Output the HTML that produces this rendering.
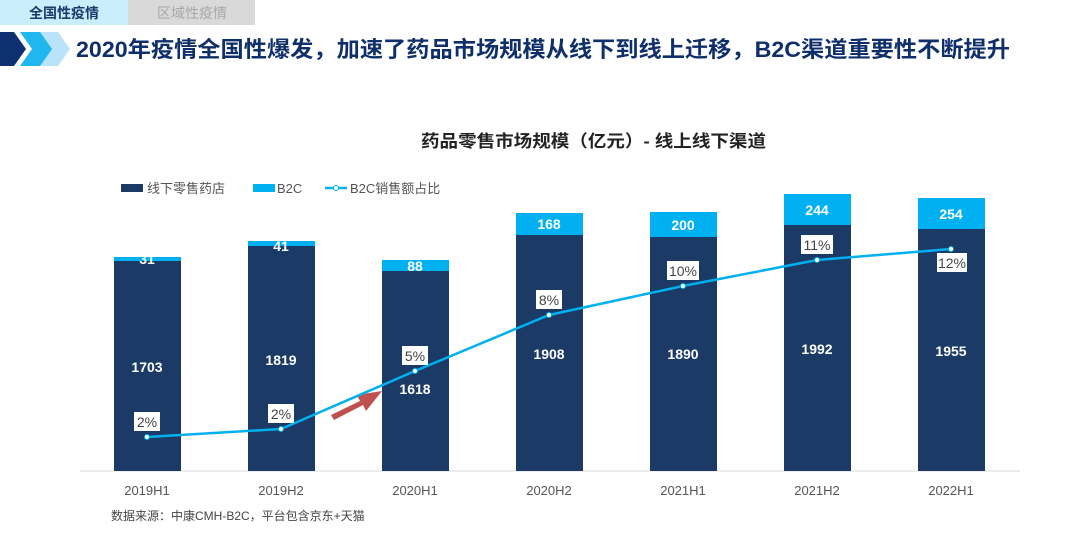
<!DOCTYPE html>
<html><head><meta charset="utf-8"><style>
body{margin:0;width:1080px;height:541px;background:#fff;overflow:hidden;font-family:"Liberation Sans","Noto Sans CJK SC",sans-serif}
</style></head><body>
<svg width="1080" height="541" xmlns="http://www.w3.org/2000/svg" style="font-family:'Liberation Sans','Noto Sans CJK SC',sans-serif">
<rect x="0" y="0" width="128" height="25" fill="#c9eefc"/>
<rect x="128" y="0" width="127" height="25" fill="#d9d9d9"/>
<text x="64" y="18" font-size="14" font-weight="bold" fill="#1b3a6b" text-anchor="middle">全国性疫情</text>
<text x="192" y="18" font-size="14" fill="#a8a8a8" text-anchor="middle">区域性疫情</text>
<polygon points="38,32 58,32 70,49 58,66 38,66 50,49" fill="#b8e3f8"/>
<polygon points="20,32 40,32 52,49 40,66 20,66 32,49" fill="#1fb7ee"/>
<polygon points="0,32 14,32 26,49 14,66 0,66" fill="#0f3070"/>
<text x="76" y="57" font-size="22" font-weight="bold" fill="#0f2f6b" textLength="934" lengthAdjust="spacingAndGlyphs">2020年疫情全国性爆发，加速了药品市场规模从线下到线上迁移，B2C渠道重要性不断提升</text>
<text x="421" y="147" font-size="17" font-weight="bold" fill="#222" textLength="345" lengthAdjust="spacingAndGlyphs">药品零售市场规模（亿元）- 线上线下渠道</text>
<g fill="#eee" font-size="14" font-weight="bold" transform="rotate(-8)">
</g>
<rect x="121" y="184" width="22" height="8" fill="#1b3a66"/>
<text x="147" y="193" font-size="13" fill="#555">线下零售药店</text>
<rect x="253" y="184" width="22" height="8" fill="#00b0f0"/>
<text x="277" y="193" font-size="13" fill="#555">B2C</text>
<line x1="325" y1="188" x2="347" y2="188" stroke="#00b0f0" stroke-width="2.5"/>
<circle cx="336" cy="188" r="2.5" fill="#fff" stroke="#00b0f0"/>
<text x="350" y="193" font-size="13" fill="#555">B2C销售额占比</text>
<line x1="80" y1="471" x2="1020" y2="471" stroke="#d9d9d9"/>
<g>
<rect x="114" y="257" width="67" height="214" fill="#1b3a66"/><rect x="114" y="257" width="67" height="4" fill="#00b0f0"/>
<rect x="248" y="241" width="67" height="230" fill="#1b3a66"/><rect x="248" y="241" width="67" height="5" fill="#00b0f0"/>
<rect x="382" y="260" width="67" height="211" fill="#1b3a66"/><rect x="382" y="260" width="67" height="11" fill="#00b0f0"/>
<rect x="516" y="213" width="67" height="258" fill="#1b3a66"/><rect x="516" y="213" width="67" height="22" fill="#00b0f0"/>
<rect x="650" y="212" width="67" height="259" fill="#1b3a66"/><rect x="650" y="212" width="67" height="25" fill="#00b0f0"/>
<rect x="784" y="194" width="67" height="277" fill="#1b3a66"/><rect x="784" y="194" width="67" height="31" fill="#00b0f0"/>
<rect x="918" y="198" width="67" height="273" fill="#1b3a66"/><rect x="918" y="198" width="67" height="31" fill="#00b0f0"/>
</g>
<g fill="#fff" font-size="14" font-weight="bold" text-anchor="middle">
<text x="147" y="264">31</text><text x="281" y="251">41</text><text x="415" y="271">88</text>
<text x="549" y="229">168</text><text x="683" y="230">200</text><text x="817" y="215">244</text><text x="951" y="219">254</text>
<text x="147" y="372">1703</text><text x="281" y="365">1819</text><text x="415" y="394">1618</text>
<text x="549" y="359">1908</text><text x="683" y="359">1890</text><text x="817" y="354">1992</text><text x="951" y="356">1955</text>
</g>
<polygon points="331,415 360,401 357,395 382,391 366,411 363,405 334,420" fill="#c0504d"/>
<polyline points="147,437 281,429 415,371 549,315 683,286 817,260 951,249" fill="none" stroke="#00b0f0" stroke-width="2.5"/>
<g fill="#fff" stroke="#00b0f0" stroke-width="1">
<circle cx="147" cy="437" r="2.5"/><circle cx="281" cy="429" r="2.5"/><circle cx="415" cy="371" r="2.5"/><circle cx="549" cy="315" r="2.5"/><circle cx="683" cy="286" r="2.5"/><circle cx="817" cy="260" r="2.5"/><circle cx="951" cy="249" r="2.5"/>
</g>
<g fill="#fff">
<rect x="134" y="412" width="26" height="19"/><rect x="268" y="404" width="26" height="19"/><rect x="402" y="346" width="26" height="19"/>
<rect x="536" y="290" width="26" height="19"/><rect x="667" y="261" width="32" height="19"/><rect x="801" y="235" width="32" height="19"/><rect x="937" y="253" width="30" height="19"/>
</g>
<g fill="#444" font-size="14" text-anchor="middle">
<text x="147" y="427">2%</text><text x="281" y="419">2%</text><text x="415" y="361">5%</text><text x="549" y="305">8%</text>
<text x="683" y="276">10%</text><text x="817" y="250">11%</text><text x="952" y="268">12%</text>
</g>
<g fill="#555" font-size="13" text-anchor="middle">
<text x="147" y="495">2019H1</text><text x="281" y="495">2019H2</text><text x="415" y="495">2020H1</text><text x="549" y="495">2020H2</text>
<text x="683" y="495">2021H1</text><text x="817" y="495">2021H2</text><text x="951" y="495">2022H1</text>
</g>
<text x="111" y="520" font-size="12" fill="#444">数据来源：中康CMH-B2C，平台包含京东+天猫</text>
</svg>
</body></html>
